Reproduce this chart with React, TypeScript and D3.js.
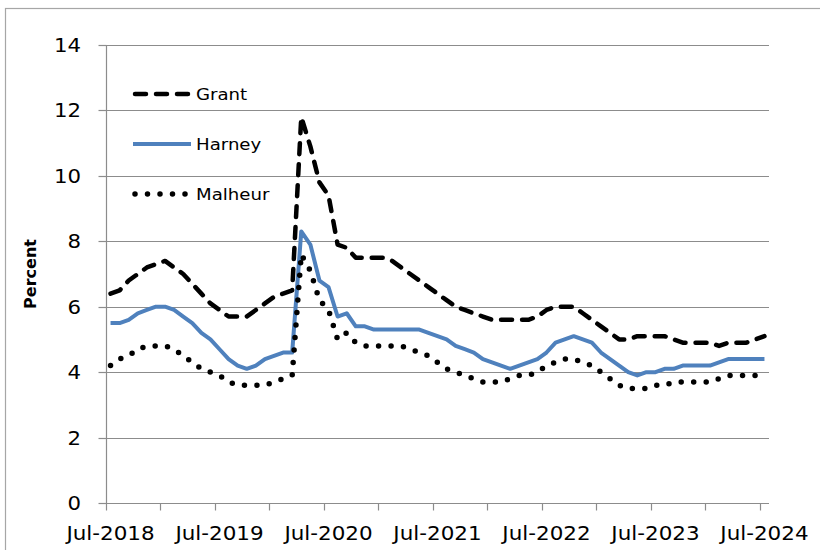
import React, { useEffect, useRef } from 'react';
import * as d3 from 'd3';

// monthly unemployment rate, Jul-2018 .. Jul-2024
const startMonth = new Date(2018, 6, 1);
const grant = [
  6.4, 6.5, 6.8, 7.0, 7.2, 7.3, 7.4, 7.2, 7.0, 6.7, 6.4, 6.1,
  5.9, 5.7, 5.7, 5.7, 5.9, 6.1, 6.3, 6.4, 6.5, 11.8, 10.9, 9.8,
  9.4, 7.9, 7.8, 7.5, 7.5, 7.5, 7.5, 7.4, 7.2, 7.0, 6.8, 6.6,
  6.4, 6.2, 6.0, 5.9, 5.8, 5.7, 5.6, 5.6, 5.6, 5.6, 5.6, 5.7,
  5.9, 6.0, 6.0, 6.0, 5.8, 5.6, 5.4, 5.2, 5.0, 5.0, 5.1, 5.1,
  5.1, 5.1, 5.0, 4.9, 4.9, 4.9, 4.9, 4.8, 4.9, 4.9, 4.9, 5.0,
  5.1
];
const harney = [
  5.5, 5.5, 5.6, 5.8, 5.9, 6.0, 6.0, 5.9, 5.7, 5.5, 5.2, 5.0,
  4.7, 4.4, 4.2, 4.1, 4.2, 4.4, 4.5, 4.6, 4.6, 8.3, 7.9, 6.8,
  6.6, 5.7, 5.8, 5.4, 5.4, 5.3, 5.3, 5.3, 5.3, 5.3, 5.3, 5.2,
  5.1, 5.0, 4.8, 4.7, 4.6, 4.4, 4.3, 4.2, 4.1, 4.2, 4.3, 4.4,
  4.6, 4.9, 5.0, 5.1, 5.0, 4.9, 4.6, 4.4, 4.2, 4.0, 3.9, 4.0,
  4.0, 4.1, 4.1, 4.2, 4.2, 4.2, 4.2, 4.3, 4.4, 4.4, 4.4, 4.4,
  4.4
];
const malheur = [
  4.2, 4.4, 4.5, 4.7, 4.8, 4.8, 4.8, 4.7, 4.5, 4.3, 4.1, 4.0,
  3.9, 3.7, 3.6, 3.6, 3.6, 3.6, 3.7, 3.8, 3.9, 7.6, 7.1, 6.2,
  5.9, 5.0, 5.2, 4.9, 4.8, 4.8, 4.8, 4.8, 4.8, 4.7, 4.6, 4.5,
  4.3, 4.1, 4.0, 3.9, 3.8, 3.7, 3.7, 3.7, 3.8, 3.9, 3.9, 4.0,
  4.2, 4.3, 4.4, 4.4, 4.3, 4.2, 4.0, 3.8, 3.6, 3.5, 3.5, 3.5,
  3.6, 3.6, 3.7, 3.7, 3.7, 3.7, 3.7, 3.8, 3.9, 3.9, 3.9, 3.9,
  3.9
];
const seriesNames = ['Grant', 'Harney', 'Malheur'];
const yTicks = [0, 2, 4, 6, 8, 10, 12, 14];

const FONT = '"DejaVu Sans", sans-serif';

export default function App() {
  const svgRef = useRef<SVGSVGElement>(null);

  useEffect(() => {
    const svg = d3.select(svgRef.current);
    svg.selectAll('*').remove();

    const plot = { left: 106, right: 769, top: 45, bottom: 503 };

    const months = grant.map((_, i) => d3.timeMonth.offset(startMonth, i));
    const n = months.length;

    // month bands: ticks on band edges, points in the middle
    const x = d3.scaleLinear().domain([0, n]).range([plot.left, plot.right]);
    const y = d3.scaleLinear().domain([0, 14]).range([plot.bottom, plot.top]);

    // outer chart border
    svg.append('rect')
      .attr('x', 5.5).attr('y', 8.5)
      .attr('width', 830).attr('height', 560)
      .attr('fill', '#fff')
      .attr('stroke', '#a6a6a6')
      .attr('stroke-width', 1.2);

    // gridlines
    svg.append('g')
      .selectAll('line')
      .data(yTicks.filter(t => t > 0))
      .join('line')
      .attr('x1', plot.left).attr('x2', plot.right)
      .attr('y1', d => Math.round(y(d)) + 0.5).attr('y2', d => Math.round(y(d)) + 0.5)
      .attr('stroke', '#8c8c8c')
      .attr('stroke-width', 1.2);

    // y axis
    const yAxis = svg.append('g').attr('transform', `translate(${plot.left + 0.5},0)`);
    yAxis.append('line')
      .attr('y1', plot.top).attr('y2', plot.bottom)
      .attr('stroke', '#8c8c8c').attr('stroke-width', 1.2);
    yTicks.forEach(t => {
      const yy = Math.round(y(t)) + 0.5;
      yAxis.append('line')
        .attr('x1', -8).attr('x2', 0).attr('y1', yy).attr('y2', yy)
        .attr('stroke', '#8c8c8c').attr('stroke-width', 1.2);
      svg.append('text')
        .attr('transform', `translate(81,${y(t) + 7}) scale(1.12,1)`)
        .attr('text-anchor', 'end')
        .style('font-family', FONT)
        .style('font-size', '19px')
        .attr('fill', '#000')
        .text(t);
    });

    // x axis
    const xAxis = svg.append('g').attr('transform', `translate(0,${plot.bottom + 0.5})`);
    xAxis.append('line')
      .attr('x1', plot.left).attr('x2', plot.right)
      .attr('stroke', '#8c8c8c').attr('stroke-width', 1.2);
    d3.range(0, n + 1, 6).forEach(i => {
      const xx = Math.round(x(i)) + 0.5;
      xAxis.append('line')
        .attr('x1', xx).attr('x2', xx).attr('y1', 0).attr('y2', 7)
        .attr('stroke', '#8c8c8c').attr('stroke-width', 1.2);
    });
    const fmt = d3.timeFormat('%b-%Y');
    d3.range(0, n, 12).forEach(i => {
      svg.append('text')
        .attr('transform', `translate(${x(i + 0.5)},540) scale(1.13,1)`)
        .attr('text-anchor', 'middle')
        .style('font-family', FONT)
        .style('font-size', '19px')
        .text(fmt(months[i]));
    });

    // axis title
    svg.append('text')
      .attr('transform', `translate(36,${(plot.top + plot.bottom) / 2}) rotate(-90)`)
      .attr('text-anchor', 'middle')
      .style('font-family', FONT)
      .style('font-size', '16px')
      .style('font-weight', 'bold')
      .text('Percent');

    const styles = [
      { data: grant, color: '#000', dash: '11 10', width: 4.5 },
      { data: harney, color: '#4F81BD', dash: null, width: 4 },
      { data: malheur, color: '#000', dash: '0 12.5', width: 5.5 }
    ];

    const line = d3.line<number>()
      .x((_, i) => x(i + 0.5))
      .y(d => y(d));

    styles.forEach(s => {
      svg.append('path')
        .datum(s.data)
        .attr('d', line)
        .attr('fill', 'none')
        .attr('stroke', s.color)
        .attr('stroke-width', s.width)
        .attr('stroke-linecap', s.dash ? 'round' : 'butt')
        .attr('stroke-linejoin', 'round')
        .attr('stroke-dasharray', s.dash);
    });

    // legend
    const legend = svg.append('g');
    seriesNames.forEach((name, i) => {
      const s = styles[i];
      const ly = 94 + i * 50;
      legend.append('line')
        .attr('x1', s.dash ? 135 : 133).attr('x2', s.dash ? 188 : 191)
        .attr('y1', ly).attr('y2', ly)
        .attr('stroke', s.color)
        .attr('stroke-width', s.width)
        .attr('stroke-linecap', s.dash ? 'round' : 'butt')
        .attr('stroke-dasharray', s.dash);
      legend.append('text')
        .attr('transform', `translate(196,${ly + 6}) scale(1.1,1)`)
        .style('font-family', FONT)
        .style('font-size', '16.5px')
        .text(name);
    });
  }, []);

  return (
    <div style={{ position: 'absolute', left: 0, top: 0 }}>
      <svg ref={svgRef} width={820} height={550}></svg>
    </div>
  );
}
